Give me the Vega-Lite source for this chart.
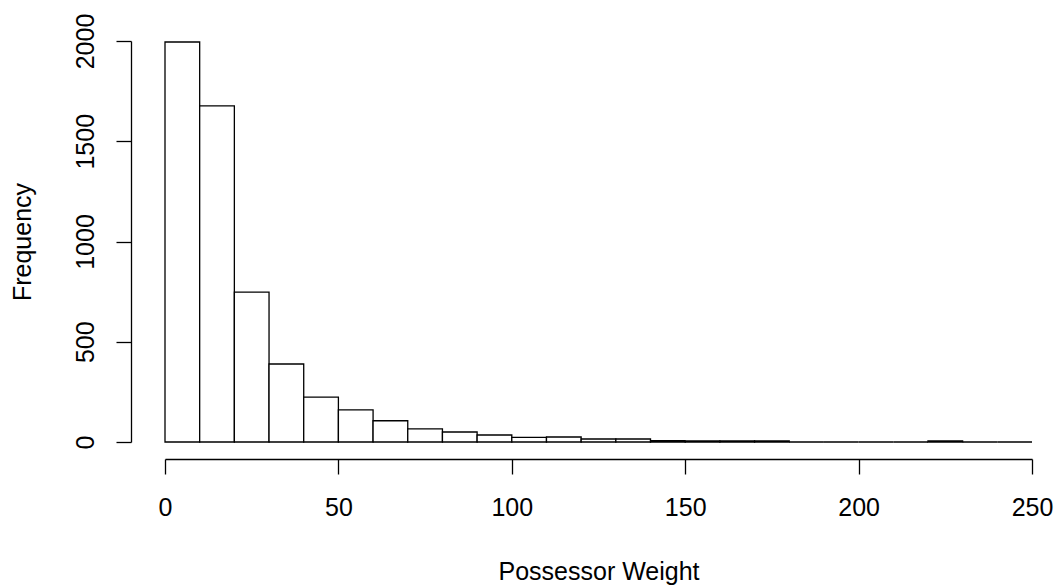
{
  "$schema": "https://vega.github.io/schema/vega-lite/v6.json",
  "width": 867,
  "height": 401,
  "autosize": {"type": "none"},
  "padding": {"left": 165, "top": 41, "right": 25, "bottom": 145},
  "background": "white",
  "config": {"view": {"stroke": null}, "font": "Liberation Sans"},
  "data": {"values": [
    {"lo": 0, "hi": 10, "count": 1995},
    {"lo": 10, "hi": 20, "count": 1676},
    {"lo": 20, "hi": 30, "count": 748},
    {"lo": 30, "hi": 40, "count": 389},
    {"lo": 40, "hi": 50, "count": 224},
    {"lo": 50, "hi": 60, "count": 160},
    {"lo": 60, "hi": 70, "count": 106},
    {"lo": 70, "hi": 80, "count": 65},
    {"lo": 80, "hi": 90, "count": 50},
    {"lo": 90, "hi": 100, "count": 35},
    {"lo": 100, "hi": 110, "count": 23},
    {"lo": 110, "hi": 120, "count": 25},
    {"lo": 120, "hi": 130, "count": 15},
    {"lo": 130, "hi": 140, "count": 15},
    {"lo": 140, "hi": 150, "count": 7},
    {"lo": 150, "hi": 160, "count": 6},
    {"lo": 160, "hi": 170, "count": 5},
    {"lo": 170, "hi": 180, "count": 5},
    {"lo": 180, "hi": 190, "count": 0},
    {"lo": 190, "hi": 200, "count": 0},
    {"lo": 200, "hi": 210, "count": 0},
    {"lo": 210, "hi": 220, "count": 0},
    {"lo": 220, "hi": 230, "count": 6},
    {"lo": 230, "hi": 240, "count": 0},
    {"lo": 240, "hi": 250, "count": 0}
  ]},
  "mark": {"type": "rect", "fill": "white", "stroke": "black", "strokeWidth": 1.3},
  "encoding": {
    "x": {
      "field": "lo", "type": "quantitative",
      "scale": {"domain": [0, 250], "nice": false, "zero": false},
      "axis": {
        "title": "Possessor Weight",
        "values": [0, 50, 100, 150, 200, 250],
        "format": "d",
        "grid": false,
        "offset": 17,
        "domainColor": "black", "domainWidth": 1.3,
        "tickColor": "black", "tickWidth": 1.3, "tickSize": 15,
        "labelFontSize": 25, "labelColor": "black", "labelFont": "Liberation Sans",
        "labelPadding": 21, "labelBaseline": "top", "labelFlush": false,
        "titleFontSize": 25, "titleColor": "black", "titleFont": "Liberation Sans",
        "titleFontWeight": "normal", "titleBaseline": "alphabetic",
        "titleY": 120
      }
    },
    "x2": {"field": "hi"},
    "y": {
      "field": "count", "type": "quantitative",
      "scale": {"domain": [0, 2000], "nice": false},
      "axis": {
        "title": "Frequency",
        "values": [0, 500, 1000, 1500, 2000],
        "format": "d",
        "grid": false,
        "offset": 34,
        "domainColor": "black", "domainWidth": 1.3,
        "tickColor": "black", "tickWidth": 1.3, "tickSize": 15,
        "labelFontSize": 25, "labelColor": "black", "labelFont": "Liberation Sans",
        "labelAngle": 270, "labelAlign": "center", "labelBaseline": "alphabetic",
        "labelPadding": 23, "labelFlush": false,
        "titleFontSize": 25, "titleColor": "black", "titleFont": "Liberation Sans",
        "titleFontWeight": "normal", "titleBaseline": "alphabetic",
        "titleAngle": 270, "titleX": -101
      }
    },
    "y2": {"datum": 0}
  }
}
